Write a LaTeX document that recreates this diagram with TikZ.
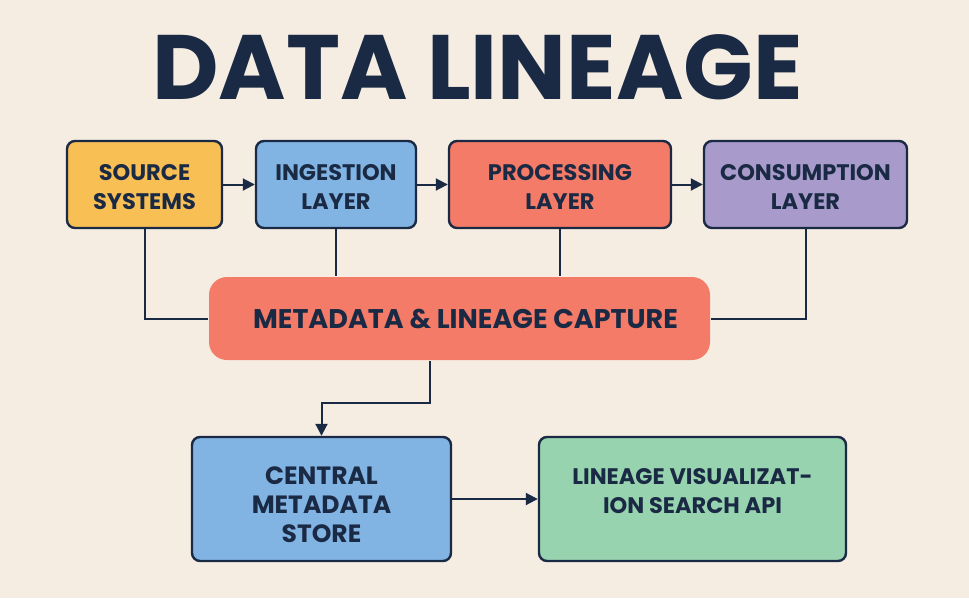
\documentclass[tikz,border=0pt]{standalone}
\usepackage{fontspec}
\setmainfont{Poppins}
\usetikzlibrary{arrows.meta,positioning}
\definecolor{bg}{HTML}{F6EDE2}
\definecolor{ink}{HTML}{1B2A44}
\definecolor{cyellow}{HTML}{F8BF55}
\definecolor{cblue}{HTML}{82B4E3}
\definecolor{cred}{HTML}{F47B67}
\definecolor{cpurple}{HTML}{A89BCC}
\definecolor{cgreen}{HTML}{98D3AF}
\newcommand{\boxlines}[2]{\raisebox{#1}[0pt][0pt]{\begin{tabular}{@{}c@{}}#2\end{tabular}}}
\tikzset{
  box/.style={draw=ink, line width=2.4pt, rounded corners=8pt, align=center, text=ink,
    font=\bfseries\fontsize{22.5}{29}\selectfont, inner sep=0pt},
  link/.style={draw=ink, line width=2pt},
  arr/.style={link, -{Triangle[length=12pt,width=12pt]}}
}
\begin{document}
\begin{tikzpicture}[x=1pt,y=-1pt]
\fill[bg] (0,0) rectangle (969,598);
\useasboundingbox (0,0) rectangle (969,598);

\node[text=ink, font=\bfseries\fontsize{91.5}{95}\selectfont] (title) at (477.5,67.5) {DATA LINEAGE};

\node[box, fill=cyellow, minimum width=155pt, minimum height=87pt] (src) at (144.5,184.5) {\boxlines{-9.8pt}{SOURCE\\SYSTEMS}};
\node[box, fill=cblue, minimum width=160pt, minimum height=87pt] (ing) at (336,184.5) {\boxlines{-9.8pt}{INGESTION\\LAYER}};
\node[box, fill=cred, minimum width=222pt, minimum height=87pt] (proc) at (560,184.5) {\boxlines{-9.8pt}{PROCESSING\\LAYER}};
\node[box, fill=cpurple, minimum width=203pt, minimum height=87pt] (cons) at (805.5,184.5) {\boxlines{-9.8pt}{CONSUMPTION\\LAYER}};

\node[box, draw=none, fill=cred, rounded corners=18pt, minimum width=501pt, minimum height=83pt,
  font=\bfseries\fontsize{27}{30}\selectfont] (meta) at (459.5,318.5) {\hspace*{12pt}METADATA \& LINEAGE CAPTURE};

\node[box, fill=cblue, minimum width=259pt, minimum height=124pt,
  font=\bfseries\fontsize{25}{29}\selectfont] (central) at (321.5,499) {\boxlines{-14.5pt}{CENTRAL\\METADATA\\STORE}};
\node[box, fill=cgreen, minimum width=307pt, minimum height=124pt] (lin) at (692.5,499) {\boxlines{0.7pt}{LINEAGE VISUALIZAT-\\ION SEARCH API}};

\draw[arr] (src.east) -- (ing.west);
\draw[arr] (ing.east) -- (proc.west);
\draw[arr] (proc.east) -- (cons.west);

\draw[link] (src.south) |- (meta.west);
\draw[link] (ing.south) -- (ing.south |- meta.north);
\draw[link] (proc.south) -- (proc.south |- meta.north);
\draw[link] (cons.south) |- (meta.east);

\draw[arr] ([xshift=-29.5pt]meta.south) -- ++(0,42) -| (central.north);
\draw[arr] (central.east) -- (lin.west);
\end{tikzpicture}
\end{document}
